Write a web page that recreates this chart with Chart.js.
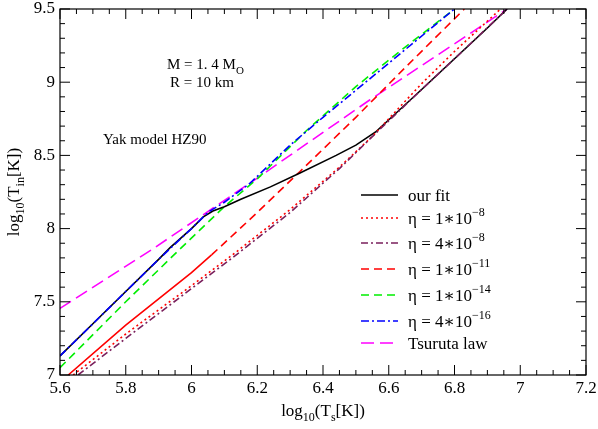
<!DOCTYPE html>
<html>
<head>
<meta charset="utf-8">
<script src="https://cdn.jsdelivr.net/npm/chart.js@4.4.0/dist/chart.umd.min.js"></script>
<style>
  html, body { margin: 0; padding: 0; background: #fff; }
  #wrap { width: 598px; height: 429px; position: relative; }
</style>
</head>
<body>
<div id="wrap"><canvas id="cooling-chart"></canvas></div>
<script>
// data: log10(Ts) -> log10(Tin)
var ourFitX = [5.6, 5.7, 5.8, 5.9, 5.935, 6.0, 6.036, 6.065, 6.1, 6.15, 6.24, 6.33, 6.44, 6.5, 6.56, 6.7, 6.8, 6.9, 6.96];
var ourFitY = [7.13, 7.35, 7.57, 7.79, 7.87, 8.0, 8.08, 8.12, 8.15, 8.2, 8.285, 8.38, 8.5, 8.57, 8.66, 8.95, 9.16, 9.37, 9.5];

var eta1e8X = [5.64, 5.8, 6.0, 6.13, 6.3, 6.45, 6.55, 6.7, 6.8, 6.94];
var eta1e8Y = [7.0, 7.28, 7.61, 7.83, 8.13, 8.42, 8.63, 8.99, 9.21, 9.5];

var eta4e8X = [5.655, 5.8, 6.0, 6.13, 6.3, 6.45, 6.56, 6.7, 6.8, 6.96];
var eta4e8Y = [7.0, 7.25, 7.59, 7.81, 8.11, 8.41, 8.65, 8.95, 9.16, 9.5];

var eta1e11X = [5.625, 5.8, 6.0, 6.061, 6.2, 6.33, 6.5, 6.65, 6.83];
var eta1e11Y = [7.0, 7.34, 7.7, 7.82, 8.11, 8.39, 8.76, 9.1, 9.5];

var eta1e14X = [5.6, 5.8, 5.96, 6.1, 6.2, 6.35, 6.5, 6.65, 6.8];
var eta1e14Y = [7.05, 7.5, 7.85, 8.15, 8.34, 8.67, 8.97, 9.24, 9.5];

var eta4e16X = [5.6, 5.7, 5.8, 5.9, 6.0, 6.036, 6.056, 6.1, 6.178, 6.3, 6.4, 6.6, 6.8];
var eta4e16Y = [7.13, 7.35, 7.57, 7.79, 8.0, 8.08, 8.12, 8.18, 8.31, 8.57, 8.76, 9.13, 9.5];

var tsurutaX = [5.6, 5.877, 6.2, 6.543, 6.96];
var tsurutaY = [7.455, 7.853, 8.345, 8.88, 9.5];

var xTicks = [5.6, 5.8, 6.0, 6.2, 6.4, 6.6, 6.8, 7.0, 7.2];
var xTickLabels = ["5.6", "5.8", "6", "6.2", "6.4", "6.6", "6.8", "7", "7.2"];
var yTicks = [7, 7.5, 8, 8.5, 9, 9.5];
var yTickLabels = ["7", "7.5", "8", "8.5", "9", "9.5"];

var serif = '"Liberation Serif", "DejaVu Serif", serif';

function pts(xs, ys) {
    return xs.map(function (x, i) { return { x: x, y: ys[i] }; });
}

// legend rows: label parts [text, mode]
var series = [
    { label: [["our fit", "n"]], x: ourFitX, y: ourFitY, color: "#000000", dash: [], order: 3 },
    { label: [["\u03b7 = 1\u221710", "n"], ["\u22128", "sup"]], x: eta1e8X, y: eta1e8Y, color: "#ff0000", dash: [2, 3], order: 2 },
    { label: [["\u03b7 = 4\u221710", "n"], ["\u22128", "sup"]], x: eta4e8X, y: eta4e8Y, color: "#7a1f5c", dash: [7, 3, 2, 3], order: 1 },
    { label: [["\u03b7 = 1\u221710", "n"], ["\u221211", "sup"]], x: eta1e11X, y: eta1e11Y, color: "#ff0000", dash: [8, 5], order: 4, solidBelow: 6.061 },
    { label: [["\u03b7 = 1\u221710", "n"], ["\u221214", "sup"]], x: eta1e14X, y: eta1e14Y, color: "#00ee00", dash: [8, 5], order: 5 },
    { label: [["\u03b7 = 4\u221710", "n"], ["\u221216", "sup"]], x: eta4e16X, y: eta4e16Y, color: "#0000ff", dash: [8, 3, 2, 3], order: 0 },
    { label: [["Tsuruta law", "n"]], x: tsurutaX, y: tsurutaY, color: "#ff00ff", dash: [13, 6], order: 6 }
];

function drawRich(ctx, parts, x, y, align, size) {
    var subSize = Math.round(size * 0.7);
    var widths = parts.map(function (p) {
        ctx.font = (p[1] === "n" ? size : subSize) + "px " + serif;
        return ctx.measureText(p[0]).width;
    });
    var total = widths.reduce(function (a, b) { return a + b; }, 0);
    var cx = align === "center" ? x - total / 2 : x;
    ctx.textAlign = "left";
    ctx.textBaseline = "alphabetic";
    parts.forEach(function (p, i) {
        var dy = 0;
        if (p[1] === "sub") dy = size * 0.3;
        if (p[1] === "sup") dy = -size * 0.5;
        ctx.font = (p[1] === "n" ? size : subSize) + "px " + serif;
        ctx.fillText(p[0], cx, y + dy);
        cx += widths[i];
    });
}

var framePlugin = {
    id: "frame",
    afterDraw: function (chart) {
        var ctx = chart.ctx;
        var a = chart.chartArea;
        var sx = chart.scales.x, sy = chart.scales.y;
        ctx.save();
        ctx.strokeStyle = "#000";
        ctx.fillStyle = "#000";
        ctx.lineWidth = 1.2;
        ctx.setLineDash([]);
        ctx.strokeRect(a.left, a.top, a.right - a.left, a.bottom - a.top);

        // inward ticks on all four sides
        ctx.lineWidth = 1;
        ctx.beginPath();
        for (var i = 0; i <= 32; i++) {
            var v = 5.6 + i * 0.05;
            var px = sx.getPixelForValue(v);
            var len = (i % 4 === 0) ? 10 : 5;
            ctx.moveTo(px, a.bottom); ctx.lineTo(px, a.bottom - len);
            ctx.moveTo(px, a.top); ctx.lineTo(px, a.top + len);
        }
        for (var j = 0; j <= 25; j++) {
            var w = 7 + j * 0.1;
            var py = sy.getPixelForValue(w);
            var l2 = (j % 5 === 0) ? 10 : 5;
            ctx.moveTo(a.left, py); ctx.lineTo(a.left + l2, py);
            ctx.moveTo(a.right, py); ctx.lineTo(a.right - l2, py);
        }
        ctx.stroke();

        // tick labels
        ctx.font = "17px " + serif;
        ctx.textAlign = "center";
        ctx.textBaseline = "top";
        xTicks.forEach(function (v, k) {
            ctx.fillText(xTickLabels[k], sx.getPixelForValue(v), a.bottom + 5);
        });
        ctx.textAlign = "right";
        ctx.textBaseline = "middle";
        yTicks.forEach(function (v, k) {
            ctx.fillText(yTickLabels[k], a.left - 5, sy.getPixelForValue(v));
        });

        // axis titles
        drawRich(ctx, [["log", "n"], ["10", "sub"], ["(T", "n"], ["s", "sub"], ["[K])", "n"]],
            (a.left + a.right) / 2, 416, "center", 17);
        ctx.save();
        ctx.translate(19, (a.top + a.bottom) / 2);
        ctx.rotate(-Math.PI / 2);
        drawRich(ctx, [["log", "n"], ["10", "sub"], ["(T", "n"], ["in", "sub"], ["[K])", "n"]],
            0, 0, "center", 17);
        ctx.restore();

        // annotations
        drawRich(ctx, [["M = 1. 4 M", "n"], ["O", "sub"]], 167, 69, "left", 15);
        drawRich(ctx, [["R = 10 km", "n"]], 170, 87, "left", 15);
        drawRich(ctx, [["Yak model HZ90", "n"]], 103, 144, "left", 15);

        // legend
        var rows = [195, 218, 243, 269, 295, 321, 343];
        series.forEach(function (s, k) {
            var y = rows[k];
            ctx.strokeStyle = s.color;
            ctx.lineWidth = 1.5;
            ctx.setLineDash(s.dash);
            ctx.beginPath();
            ctx.moveTo(361, y);
            ctx.lineTo(398, y);
            ctx.stroke();
            ctx.setLineDash([]);
            ctx.fillStyle = "#000";
            drawRich(ctx, s.label, 408, y + 6, "left", 17);
        });
        ctx.restore();
    }
};

var datasets = series.map(function (s) {
    var ds = {
        data: pts(s.x, s.y),
        showLine: true,
        borderColor: s.color,
        backgroundColor: s.color,
        borderWidth: 1.6,
        borderDash: s.dash,
        pointRadius: 0,
        tension: 0,
        fill: false,
        order: s.order
    };
    if (s.solidBelow) {
        ds.segment = {
            borderDash: function (c) {
                return c.p1.parsed.x <= s.solidBelow + 1e-6 ? [] : s.dash;
            }
        };
    }
    return ds;
});

new Chart(document.getElementById("cooling-chart"), {
    type: "scatter",
    data: { datasets: datasets },
    options: {
        responsive: true,
        maintainAspectRatio: false,
        animation: false,
        layout: { padding: { left: 60, right: 12, top: 9, bottom: 54 } },
        plugins: { legend: { display: false }, tooltip: { enabled: false } },
        scales: {
            x: { type: "linear", min: 5.6, max: 7.2, display: false },
            y: { type: "linear", min: 7, max: 9.5, display: false }
        }
    },
    plugins: [framePlugin]
});
</script>
</body>
</html>
